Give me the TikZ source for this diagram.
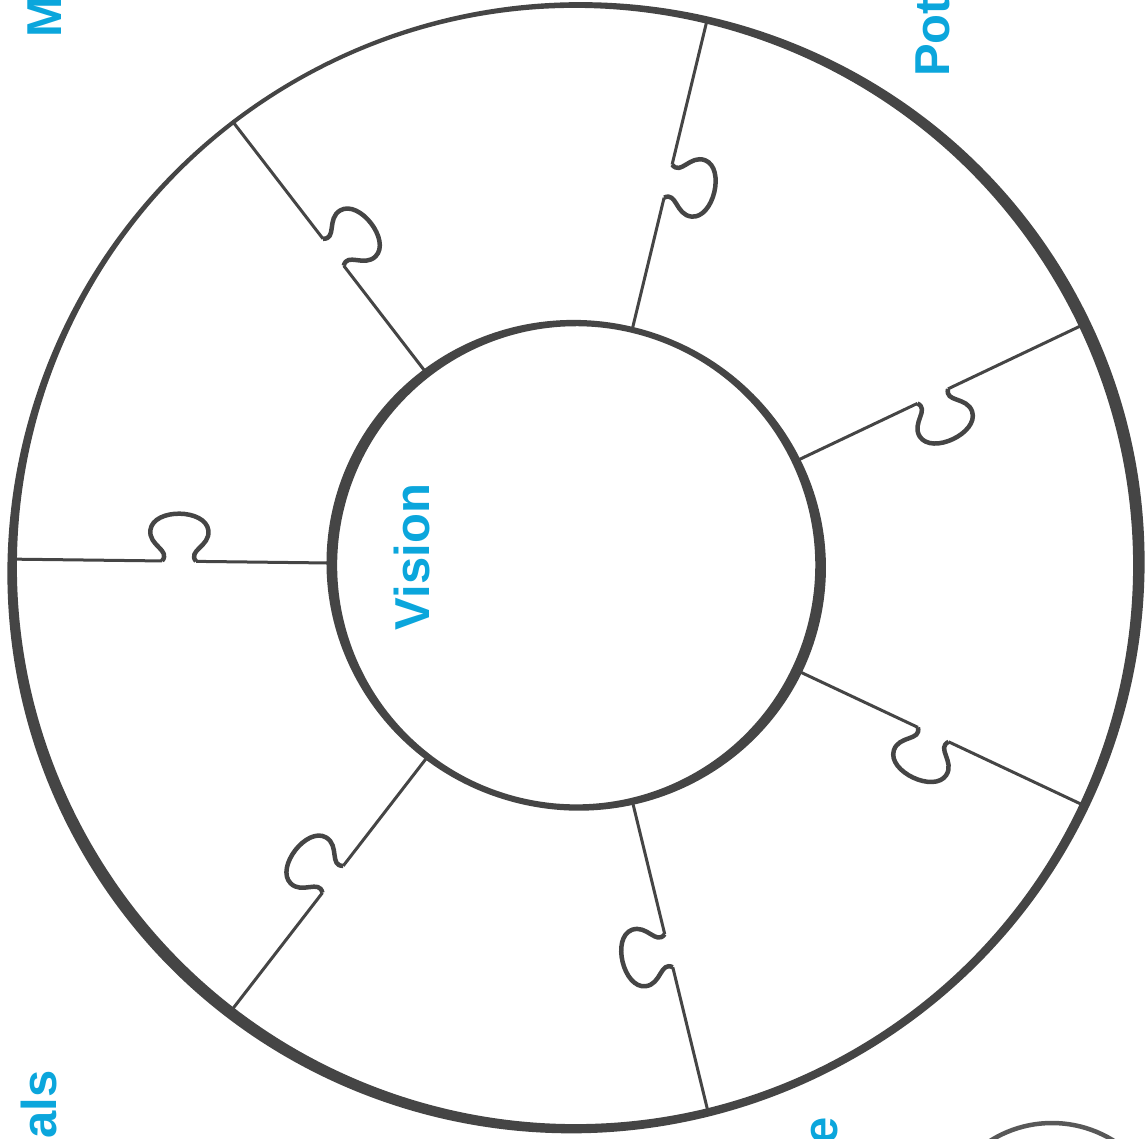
\documentclass[tikz,border=0pt]{standalone}
\usepackage{fontspec}
\setmainfont{Liberation Sans}
\definecolor{inkgray}{HTML}{454545}
\definecolor{labelblue}{HTML}{0BA6DC}
\tikzset{
  seam/.style={draw=inkgray, line width=3pt},
  knob/.style={draw=inkgray, line width=4.5pt, line join=round},
  sectorlabel/.style={text=labelblue, font=\fontsize{49}{49}\selectfont\bfseries, inner sep=0pt, rotate=90}
}

\begin{document}
\begin{tikzpicture}[x=1pt, y=1pt]
  \useasboundingbox (-575,-572) rectangle (573,566);
  \clip (-575,-572) rectangle (573,566);
  % outer ring
  \fill[inkgray, even odd rule] (0,-2) [rotate=30] ellipse [x radius=570, y radius=564]
    (0,0) circle [radius=558];
  % inner circle
  \fill[inkgray, even odd rule] (1,1) [rotate=-15] ellipse [x radius=250, y radius=245]
    (1,1) circle [radius=239];
  % seams with puzzle knobs
  \foreach \a in {179.3,127.6,76.4,25.4,-25.2,-76.3,-127.7} {
    \begin{scope}[rotate=\a]
      \draw[seam] (242,0) -- (379,0);
      \draw[seam] (413,0) -- (562,0);
      \draw[knob] (379,0) .. controls (388,-11) and (365,-15) .. (367,-31)
        .. controls (370,-53) and (422,-53) .. (425,-31)
        .. controls (427,-15) and (404,-11) .. (413,0);
    \end{scope}
  }
  % next circle, cut by the edge
  \draw[inkgray!90, line width=4.5pt] (477,-673) circle [radius=116];
  % labels
  \node (vision) at (-145,9) [sectorlabel, anchor=base] {Vision};
  \node (mlabel) at (-513,528) [sectorlabel, anchor=base west] {M};
  \node (potlabel) at (374,489) [sectorlabel, anchor=base west] {Pot};
  \node (alslabel) at (-518,-504) [sectorlabel, anchor=base east] {als};
  \node (elabel) at (262,-551) [sectorlabel, anchor=base east] {e};
\end{tikzpicture}
\end{document}
